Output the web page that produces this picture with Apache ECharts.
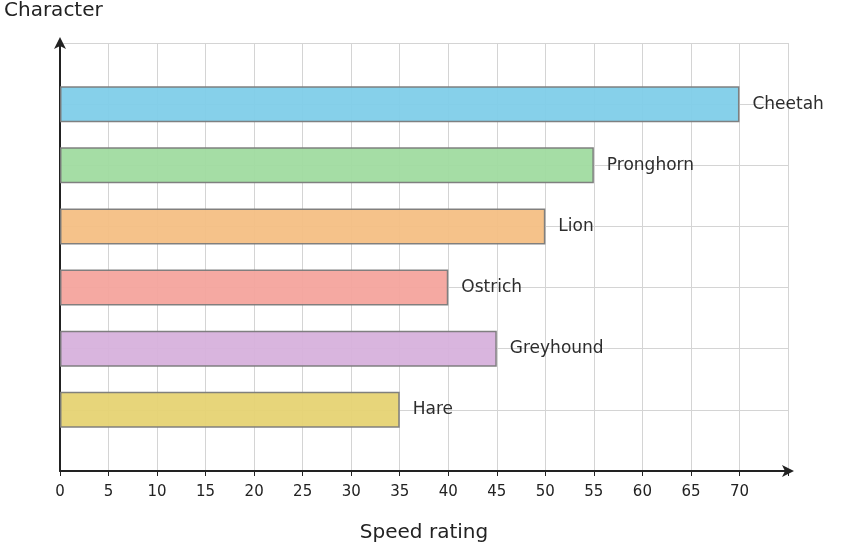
<!DOCTYPE html>
<html><head><meta charset="utf-8">
<script src="https://cdn.jsdelivr.net/npm/echarts@6/dist/echarts.min.js"></script>
<style>html,body{margin:0;padding:0;background:#fff}#c{width:845px;height:548px}</style>
</head><body><div id="c"></div>
<script>
const categories = ['', 'Hare', 'Greyhound', 'Ostrich', 'Lion', 'Pronghorn', 'Cheetah', ''];
const speeds = [null, 35, 45, 40, 50, 55, 70, null];
const colors = [null, '#e6d373', '#d7b1dc', '#f4a49d', '#f4bf84', '#a0dba0', '#7fcde9', null];
const xTicks = {min: 0, max: 75, interval: 5};

const chart = echarts.init(document.getElementById('c'));
chart.setOption({
  animation: false,
  grid: {left: 60, right: 57, top: 43, bottom: 77, containLabel: false},
  xAxis: {
    type: 'value', min: xTicks.min, max: xTicks.max, interval: xTicks.interval,
    name: 'Speed rating', nameLocation: 'middle', nameGap: 52,
    nameTextStyle: {fontSize: 20, color: '#222', fontFamily: 'DejaVu Sans'},
    axisLine: {show: true, symbol: ['none', 'arrow'], symbolSize: [9, 12], symbolOffset: [0, 6], lineStyle: {color: '#222', width: 2}},
    axisTick: {show: true, length: 5, lineStyle: {color: '#222'}},
    axisLabel: {fontSize: 15, color: '#222', fontFamily: 'DejaVu Sans', margin: 14,
      formatter: v => v === 75 ? '' : v},
    splitLine: {show: true, lineStyle: {color: '#d4d4d4'}}
  },
  yAxis: {
    type: 'category', data: categories, boundaryGap: false,
    name: 'Character', nameLocation: 'end', nameGap: 22,
    nameTextStyle: {fontSize: 20, color: '#222', fontFamily: 'DejaVu Sans', align: 'left', padding: [0, 0, 0, -56]},
    axisLine: {show: true, symbol: ['none', 'arrow'], symbolSize: [9, 12], symbolOffset: [0, 6], lineStyle: {color: '#222', width: 2}},
    axisTick: {show: false},
    axisLabel: {show: false},
    splitLine: {show: true, lineStyle: {color: '#d4d4d4'}}
  },
  series: [{
    type: 'bar', barWidth: 36,
    data: speeds.map((v, i) => v == null ? null : {value: v, itemStyle: {color: colors[i]}}),
    itemStyle: {borderColor: '#7a7a7a', borderWidth: 1.5, opacity: 0.95},
    label: {show: true, position: 'right', distance: 13, fontSize: 17, color: '#222', fontFamily: 'DejaVu Sans',
      formatter: p => categories[p.dataIndex]}
  }]
});
</script></body></html>
